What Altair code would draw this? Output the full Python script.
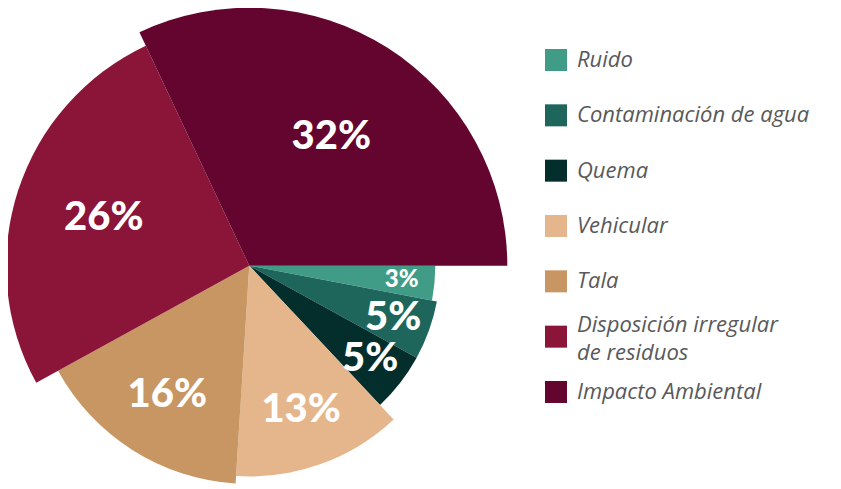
import math
import altair as alt
import pandas as pd

categories = ["Ruido", "Contaminación de agua", "Quema", "Vehicular", "Tala",
              "Disposición irregular de residuos", "Impacto Ambiental"]
legend_labels = ["Ruido", "Contaminación de agua", "Quema", "Vehicular", "Tala",
                 "Disposición irregular\nde residuos", "Impacto Ambiental"]
values = [3, 5, 5, 13, 16, 26, 32]
colors = ["#409c86", "#1e665c", "#032e2c", "#e5b68c", "#c79663", "#8b1439", "#63052e"]

df = pd.DataFrame({
    "cat": categories,
    "label": legend_labels,
    "value": values,
    "idx": list(range(len(values))),
})
df["pct"] = df["value"].astype(str) + "%"

color = alt.Color("cat:N", scale=alt.Scale(domain=categories, range=colors), legend=None)
theta = alt.Theta("value:Q", stack=True,
                  scale=alt.Scale(range=[math.pi / 2, math.pi / 2 + 2 * math.pi]))
cx = alt.value(241.3)
cy = alt.value(257.7)

arcs = alt.Chart(df).mark_arc().encode(
    theta=theta,
    order=alt.Order("idx:Q"),
    color=color,
    radius=alt.Radius("value:Q", scale=alt.Scale(type="linear", zero=False, range=[186, 258])),
    radius2=alt.value(0),
    x=cx, y=cy,
)

labels = alt.Chart(df).mark_text(
    font="Lato", fontWeight=900, color="white", align="center", baseline="middle"
).encode(
    theta=theta,
    order=alt.Order("idx:Q"),
    radius=alt.value(153),
    text="pct:N",
    size=alt.Size("value:Q", scale=alt.Scale(type="threshold", domain=[4], range=[24, 40]), legend=None),
    x=cx, y=cy,
)

leg_y = alt.Y("cat:N", sort=categories, axis=None,
              scale=alt.Scale(type="point", padding=0, range=[52, 384]))

squares = alt.Chart(df).mark_square(size=484, opacity=1, filled=True).encode(
    x=alt.value(548), y=leg_y, color=color,
)

text_style = dict(align="left", baseline="middle", font="Open Sans", fontStyle="italic",
                  fontSize=22, color="#58595b", lineBreak="\n", lineHeight=28)

texts_single = alt.Chart(df).transform_filter(
    "indexof(datum.label, '\\n') < 0"
).mark_text(**text_style).encode(x=alt.value(569), y=leg_y, text="label:N")

texts_multi = alt.Chart(df).transform_filter(
    "indexof(datum.label, '\\n') >= 0"
).mark_text(dy=-12, **text_style).encode(x=alt.value(569), y=leg_y, text="label:N")

chart = alt.layer(arcs, labels, squares, texts_single, texts_multi).properties(
    width=825, height=481, padding=0, autosize="none"
).configure_view(stroke=None)

chart.save("out.html", embed_options={"renderer": "svg", "actions": False})
